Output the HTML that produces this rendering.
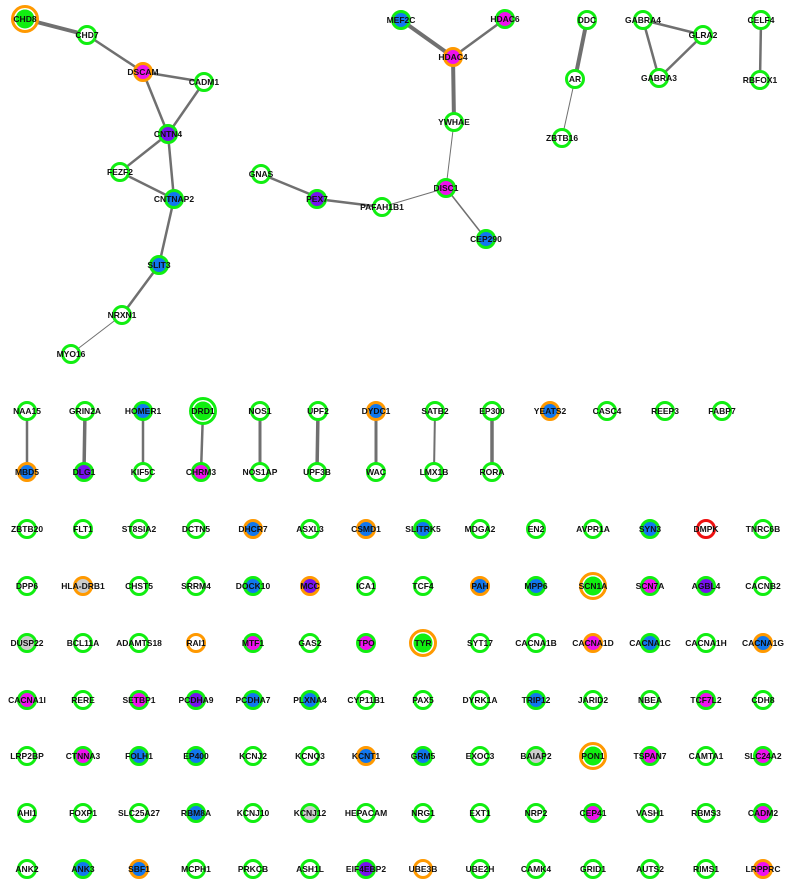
<!DOCTYPE html>
<html><head><meta charset="utf-8"><style>
html,body{margin:0;padding:0;background:#fff;}
svg{display:block;}
text{font-family:"Liberation Sans",sans-serif;font-weight:bold;font-size:8.5px;text-anchor:middle;fill:#111;}
circle{stroke-width:3;}
.g{stroke:#11ee11}.o{stroke:#ff9900}.r{stroke:#ee1111}
.w{fill:#fff}.m{fill:#ee11ee}.b{fill:#1177ee}.p{fill:#7711ee}.y{fill:#cccccc}.G{fill:#11ee11;stroke:none}
line{stroke:#707070;stroke-linecap:round}
</style></head><body>
<svg width="792" height="889" viewBox="0 0 792 889" xmlns="http://www.w3.org/2000/svg">
<!-- edges -->
<line x1="25" y1="19" x2="87" y2="35" stroke-width="4"/>
<line x1="87" y1="35" x2="143" y2="72" stroke-width="2.5"/>
<line x1="143" y1="72" x2="204" y2="82" stroke-width="2.5"/>
<line x1="143" y1="72" x2="168" y2="134" stroke-width="2.5"/>
<line x1="204" y1="82" x2="168" y2="134" stroke-width="2.5"/>
<line x1="168" y1="134" x2="120" y2="172" stroke-width="2.5"/>
<line x1="168" y1="134" x2="174" y2="199" stroke-width="2.5"/>
<line x1="120" y1="172" x2="174" y2="199" stroke-width="2.5"/>
<line x1="174" y1="199" x2="159" y2="265" stroke-width="2.5"/>
<line x1="159" y1="265" x2="122" y2="315" stroke-width="2.5"/>
<line x1="122" y1="315" x2="71" y2="354" stroke-width="1"/>
<line x1="261" y1="174" x2="317" y2="197" stroke-width="2.5"/>
<line x1="317" y1="199" x2="382" y2="207" stroke-width="2.5"/>
<line x1="382" y1="207" x2="446" y2="188" stroke-width="1"/>
<line x1="446" y1="188" x2="486" y2="239" stroke-width="1.5"/>
<line x1="446" y1="188" x2="454" y2="122" stroke-width="1"/>
<line x1="454" y1="122" x2="453" y2="57" stroke-width="4"/>
<line x1="453" y1="57" x2="401" y2="20" stroke-width="4"/>
<line x1="453" y1="57" x2="505" y2="19" stroke-width="2.5"/>
<line x1="587" y1="20" x2="575" y2="79" stroke-width="4"/>
<line x1="575" y1="79" x2="562" y2="138" stroke-width="1"/>
<line x1="643" y1="20" x2="703" y2="35" stroke-width="2.5"/>
<line x1="643" y1="20" x2="659" y2="78" stroke-width="2.5"/>
<line x1="703" y1="35" x2="659" y2="78" stroke-width="2.5"/>
<line x1="761" y1="20" x2="760" y2="80" stroke-width="2.5"/>
<line x1="27" y1="411" x2="27" y2="472" stroke-width="2.5"/>
<line x1="85" y1="411" x2="84" y2="472" stroke-width="3.5"/>
<line x1="143" y1="411" x2="143" y2="472" stroke-width="2.5"/>
<line x1="203" y1="411" x2="201" y2="472" stroke-width="2.5"/>
<line x1="260" y1="411" x2="260" y2="472" stroke-width="3"/>
<line x1="318" y1="411" x2="317" y2="472" stroke-width="3.5"/>
<line x1="376" y1="411" x2="376" y2="472" stroke-width="3"/>
<line x1="435" y1="411" x2="434" y2="472" stroke-width="2"/>
<line x1="492" y1="411" x2="492" y2="472" stroke-width="3.5"/>
<!-- top graph nodes -->
<circle cx="25" cy="19" r="12.5" class="o w"/><circle cx="25" cy="19" r="9.5" class="G"/><text x="25" y="22">CHD8</text>
<circle cx="87" cy="35" r="8.5" class="g w"/><text x="87" y="38">CHD7</text>
<circle cx="143" cy="72" r="8.5" class="o m"/><text x="143" y="75">DSCAM</text>
<circle cx="204" cy="82" r="8.5" class="g w"/><text x="204" y="85">CADM1</text>
<circle cx="168" cy="134" r="8.5" class="g p"/><text x="168" y="137">CNTN4</text>
<circle cx="120" cy="172" r="8.5" class="g w"/><text x="120" y="175">FEZF2</text>
<circle cx="174" cy="199" r="8.5" class="g b"/><text x="174" y="202">CNTNAP2</text>
<circle cx="159" cy="265" r="8.5" class="g b"/><text x="159" y="268">SLIT3</text>
<circle cx="122" cy="315" r="8.5" class="g w"/><text x="122" y="318">NRXN1</text>
<circle cx="71" cy="354" r="8.5" class="g w"/><text x="71" y="357">MYO16</text>
<circle cx="261" cy="174" r="8.5" class="g w"/><text x="261" y="177">GNAS</text>
<circle cx="317" cy="199" r="8.5" class="g p"/><text x="317" y="202">PEX7</text>
<circle cx="382" cy="207" r="8.5" class="g w"/><text x="382" y="210">PAFAH1B1</text>
<circle cx="446" cy="188" r="8.5" class="g m"/><text x="446" y="191">DISC1</text>
<circle cx="486" cy="239" r="8.5" class="g b"/><text x="486" y="242">CEP290</text>
<circle cx="454" cy="122" r="8.5" class="g w"/><text x="454" y="125">YWHAE</text>
<circle cx="453" cy="57" r="8.5" class="o m"/><text x="453" y="60">HDAC4</text>
<circle cx="401" cy="20" r="8.5" class="g b"/><text x="401" y="23">MEF2C</text>
<circle cx="505" cy="19" r="8.5" class="g m"/><text x="505" y="22">HDAC6</text>
<circle cx="587" cy="20" r="8.5" class="g w"/><text x="587" y="23">DDC</text>
<circle cx="575" cy="79" r="8.5" class="g w"/><text x="575" y="82">AR</text>
<circle cx="562" cy="138" r="8.5" class="g w"/><text x="562" y="141">ZBTB16</text>
<circle cx="643" cy="20" r="8.5" class="g w"/><text x="643" y="23">GABRA4</text>
<circle cx="703" cy="35" r="8.5" class="g w"/><text x="703" y="38">GLRA2</text>
<circle cx="659" cy="78" r="8.5" class="g w"/><text x="659" y="81">GABRA3</text>
<circle cx="761" cy="20" r="8.5" class="g w"/><text x="761" y="23">CELF4</text>
<circle cx="760" cy="80" r="8.5" class="g w"/><text x="760" y="83">RBFOX1</text>
<!-- pairs -->
<circle cx="27" cy="411" r="8.5" class="g w"/><text x="27" y="414">NAA15</text>
<circle cx="27" cy="472" r="8.5" class="o b"/><text x="27" y="475">MBD5</text>
<circle cx="85" cy="411" r="8.5" class="g w"/><text x="85" y="414">GRIN2A</text>
<circle cx="84" cy="472" r="8.5" class="g p"/><text x="84" y="475">DLG1</text>
<circle cx="143" cy="411" r="8.5" class="g b"/><text x="143" y="414">HOMER1</text>
<circle cx="143" cy="472" r="8.5" class="g w"/><text x="143" y="475">KIF5C</text>
<circle cx="203" cy="411" r="12.5" class="g w"/><circle cx="203" cy="411" r="9.5" class="G"/><text x="203" y="414">DRD1</text>
<circle cx="201" cy="472" r="8.5" class="g m"/><text x="201" y="475">CHRM3</text>
<circle cx="260" cy="411" r="8.5" class="g w"/><text x="260" y="414">NOS1</text>
<circle cx="260" cy="472" r="8.5" class="g w"/><text x="260" y="475">NOS1AP</text>
<circle cx="318" cy="411" r="8.5" class="g w"/><text x="318" y="414">UPF2</text>
<circle cx="317" cy="472" r="8.5" class="g w"/><text x="317" y="475">UPF3B</text>
<circle cx="376" cy="411" r="8.5" class="o b"/><text x="376" y="414">DYDC1</text>
<circle cx="376" cy="472" r="8.5" class="g w"/><text x="376" y="475">WAC</text>
<circle cx="435" cy="411" r="8.5" class="g w"/><text x="435" y="414">SATB2</text>
<circle cx="434" cy="472" r="8.5" class="g w"/><text x="434" y="475">LMX1B</text>
<circle cx="492" cy="411" r="8.5" class="g w"/><text x="492" y="414">EP300</text>
<circle cx="492" cy="472" r="8.5" class="g w"/><text x="492" y="475">RORA</text>
<circle cx="550" cy="411" r="8.5" class="o b"/><text x="550" y="414">YEATS2</text>
<circle cx="607" cy="411" r="8.5" class="g w"/><text x="607" y="414">CASC4</text>
<circle cx="665" cy="411" r="8.5" class="g w"/><text x="665" y="414">REEP3</text>
<circle cx="722" cy="411" r="8.5" class="g w"/><text x="722" y="414">FABP7</text>
<!-- row 529 -->
<circle cx="27" cy="529" r="8.5" class="g w"/><text x="27" y="532">ZBTB20</text>
<circle cx="83" cy="529" r="8.5" class="g w"/><text x="83" y="532">FLT1</text>
<circle cx="139" cy="529" r="8.5" class="g w"/><text x="139" y="532">ST8SIA2</text>
<circle cx="196" cy="529" r="8.5" class="g w"/><text x="196" y="532">DCTN5</text>
<circle cx="253" cy="529" r="8.5" class="o b"/><text x="253" y="532">DHCR7</text>
<circle cx="310" cy="529" r="8.5" class="g w"/><text x="310" y="532">ASXL3</text>
<circle cx="366" cy="529" r="8.5" class="o b"/><text x="366" y="532">CSMD1</text>
<circle cx="423" cy="529" r="8.5" class="g b"/><text x="423" y="532">SLITRK5</text>
<circle cx="480" cy="529" r="8.5" class="g w"/><text x="480" y="532">MDGA2</text>
<circle cx="536" cy="529" r="8.5" class="g w"/><text x="536" y="532">EN2</text>
<circle cx="593" cy="529" r="8.5" class="g w"/><text x="593" y="532">AVPR1A</text>
<circle cx="650" cy="529" r="8.5" class="g b"/><text x="650" y="532">SYN3</text>
<circle cx="706" cy="529" r="8.5" class="r w"/><text x="706" y="532">DMPK</text>
<circle cx="763" cy="529" r="8.5" class="g w"/><text x="763" y="532">TNRC6B</text>
<!-- row 586 -->
<circle cx="27" cy="586" r="8.5" class="g w"/><text x="27" y="589">DPP6</text>
<circle cx="83" cy="586" r="8.5" class="o y"/><text x="83" y="589">HLA-DRB1</text>
<circle cx="139" cy="586" r="8.5" class="g w"/><text x="139" y="589">CHST5</text>
<circle cx="196" cy="586" r="8.5" class="g w"/><text x="196" y="589">SRRM4</text>
<circle cx="253" cy="586" r="8.5" class="g b"/><text x="253" y="589">DOCK10</text>
<circle cx="310" cy="586" r="8.5" class="o p"/><text x="310" y="589">MCC</text>
<circle cx="366" cy="586" r="8.5" class="g w"/><text x="366" y="589">ICA1</text>
<circle cx="423" cy="586" r="8.5" class="g w"/><text x="423" y="589">TCF4</text>
<circle cx="480" cy="586" r="8.5" class="o b"/><text x="480" y="589">PAH</text>
<circle cx="536" cy="586" r="8.5" class="g b"/><text x="536" y="589">MPP6</text>
<circle cx="593" cy="586" r="12.5" class="o w"/><circle cx="593" cy="586" r="9.5" class="G"/><text x="593" y="589">SCN1A</text>
<circle cx="650" cy="586" r="8.5" class="g m"/><text x="650" y="589">SCN7A</text>
<circle cx="706" cy="586" r="8.5" class="g p"/><text x="706" y="589">AGBL4</text>
<circle cx="763" cy="586" r="8.5" class="g w"/><text x="763" y="589">CACNB2</text>
<!-- row 643 -->
<circle cx="27" cy="643" r="8.5" class="g y"/><text x="27" y="646">DUSP22</text>
<circle cx="83" cy="643" r="8.5" class="g w"/><text x="83" y="646">BCL11A</text>
<circle cx="139" cy="643" r="8.5" class="g w"/><text x="139" y="646">ADAMTS18</text>
<circle cx="196" cy="643" r="8.5" class="o w"/><text x="196" y="646">RAI1</text>
<circle cx="253" cy="643" r="8.5" class="g m"/><text x="253" y="646">MTF1</text>
<circle cx="310" cy="643" r="8.5" class="g w"/><text x="310" y="646">GAS2</text>
<circle cx="366" cy="643" r="8.5" class="g m"/><text x="366" y="646">TPO</text>
<circle cx="423" cy="643" r="12.5" class="o w"/><circle cx="423" cy="643" r="9.5" class="G"/><text x="423" y="646">TYR</text>
<circle cx="480" cy="643" r="8.5" class="g w"/><text x="480" y="646">SYT17</text>
<circle cx="536" cy="643" r="8.5" class="g w"/><text x="536" y="646">CACNA1B</text>
<circle cx="593" cy="643" r="8.5" class="o m"/><text x="593" y="646">CACNA1D</text>
<circle cx="650" cy="643" r="8.5" class="g b"/><text x="650" y="646">CACNA1C</text>
<circle cx="706" cy="643" r="8.5" class="g w"/><text x="706" y="646">CACNA1H</text>
<circle cx="763" cy="643" r="8.5" class="o b"/><text x="763" y="646">CACNA1G</text>
<!-- row 700 -->
<circle cx="27" cy="700" r="8.5" class="g m"/><text x="27" y="703">CACNA1I</text>
<circle cx="83" cy="700" r="8.5" class="g w"/><text x="83" y="703">RERE</text>
<circle cx="139" cy="700" r="8.5" class="g m"/><text x="139" y="703">SETBP1</text>
<circle cx="196" cy="700" r="8.5" class="g p"/><text x="196" y="703">PCDHA9</text>
<circle cx="253" cy="700" r="8.5" class="g b"/><text x="253" y="703">PCDHA7</text>
<circle cx="310" cy="700" r="8.5" class="g b"/><text x="310" y="703">PLXNA4</text>
<circle cx="366" cy="700" r="8.5" class="g w"/><text x="366" y="703">CYP11B1</text>
<circle cx="423" cy="700" r="8.5" class="g w"/><text x="423" y="703">PAX5</text>
<circle cx="480" cy="700" r="8.5" class="g w"/><text x="480" y="703">DYRK1A</text>
<circle cx="536" cy="700" r="8.5" class="g b"/><text x="536" y="703">TRIP12</text>
<circle cx="593" cy="700" r="8.5" class="g w"/><text x="593" y="703">JARID2</text>
<circle cx="650" cy="700" r="8.5" class="g w"/><text x="650" y="703">NBEA</text>
<circle cx="706" cy="700" r="8.5" class="g m"/><text x="706" y="703">TCF7L2</text>
<circle cx="763" cy="700" r="8.5" class="g w"/><text x="763" y="703">CDH8</text>
<!-- row 756 -->
<circle cx="27" cy="756" r="8.5" class="g w"/><text x="27" y="759">LRP2BP</text>
<circle cx="83" cy="756" r="8.5" class="g m"/><text x="83" y="759">CTNNA3</text>
<circle cx="139" cy="756" r="8.5" class="g b"/><text x="139" y="759">FOLH1</text>
<circle cx="196" cy="756" r="8.5" class="g b"/><text x="196" y="759">EP400</text>
<circle cx="253" cy="756" r="8.5" class="g w"/><text x="253" y="759">KCNJ2</text>
<circle cx="310" cy="756" r="8.5" class="g w"/><text x="310" y="759">KCNQ3</text>
<circle cx="366" cy="756" r="8.5" class="o b"/><text x="366" y="759">KCNT1</text>
<circle cx="423" cy="756" r="8.5" class="g b"/><text x="423" y="759">GRM5</text>
<circle cx="480" cy="756" r="8.5" class="g w"/><text x="480" y="759">EXOC3</text>
<circle cx="536" cy="756" r="8.5" class="g y"/><text x="536" y="759">BAIAP2</text>
<circle cx="593" cy="756" r="12.5" class="o w"/><circle cx="593" cy="756" r="9.5" class="G"/><text x="593" y="759">PON1</text>
<circle cx="650" cy="756" r="8.5" class="g m"/><text x="650" y="759">TSPAN7</text>
<circle cx="706" cy="756" r="8.5" class="g w"/><text x="706" y="759">CAMTA1</text>
<circle cx="763" cy="756" r="8.5" class="g m"/><text x="763" y="759">SLC24A2</text>
<!-- row 813 -->
<circle cx="27" cy="813" r="8.5" class="g w"/><text x="27" y="816">AHI1</text>
<circle cx="83" cy="813" r="8.5" class="g w"/><text x="83" y="816">FOXP1</text>
<circle cx="139" cy="813" r="8.5" class="g w"/><text x="139" y="816">SLC25A27</text>
<circle cx="196" cy="813" r="8.5" class="g b"/><text x="196" y="816">RBM8A</text>
<circle cx="253" cy="813" r="8.5" class="g w"/><text x="253" y="816">KCNJ10</text>
<circle cx="310" cy="813" r="8.5" class="g y"/><text x="310" y="816">KCNJ12</text>
<circle cx="366" cy="813" r="8.5" class="g w"/><text x="366" y="816">HEPACAM</text>
<circle cx="423" cy="813" r="8.5" class="g w"/><text x="423" y="816">NRG1</text>
<circle cx="480" cy="813" r="8.5" class="g w"/><text x="480" y="816">EXT1</text>
<circle cx="536" cy="813" r="8.5" class="g w"/><text x="536" y="816">NRP2</text>
<circle cx="593" cy="813" r="8.5" class="g m"/><text x="593" y="816">CEP41</text>
<circle cx="650" cy="813" r="8.5" class="g w"/><text x="650" y="816">VASH1</text>
<circle cx="706" cy="813" r="8.5" class="g w"/><text x="706" y="816">RBMS3</text>
<circle cx="763" cy="813" r="8.5" class="g m"/><text x="763" y="816">CADM2</text>
<!-- row 869 -->
<circle cx="27" cy="869" r="8.5" class="g w"/><text x="27" y="872">ANK2</text>
<circle cx="83" cy="869" r="8.5" class="g b"/><text x="83" y="872">ANK3</text>
<circle cx="139" cy="869" r="8.5" class="o b"/><text x="139" y="872">SBF1</text>
<circle cx="196" cy="869" r="8.5" class="g w"/><text x="196" y="872">MCPH1</text>
<circle cx="253" cy="869" r="8.5" class="g w"/><text x="253" y="872">PRKCB</text>
<circle cx="310" cy="869" r="8.5" class="g w"/><text x="310" y="872">ASH1L</text>
<circle cx="366" cy="869" r="8.5" class="g p"/><text x="366" y="872">EIF4EBP2</text>
<circle cx="423" cy="869" r="8.5" class="o w"/><text x="423" y="872">UBE3B</text>
<circle cx="480" cy="869" r="8.5" class="g w"/><text x="480" y="872">UBE2H</text>
<circle cx="536" cy="869" r="8.5" class="g w"/><text x="536" y="872">CAMK4</text>
<circle cx="593" cy="869" r="8.5" class="g w"/><text x="593" y="872">GRID1</text>
<circle cx="650" cy="869" r="8.5" class="g w"/><text x="650" y="872">AUTS2</text>
<circle cx="706" cy="869" r="8.5" class="g w"/><text x="706" y="872">RIMS1</text>
<circle cx="763" cy="869" r="8.5" class="o m"/><text x="763" y="872">LRPPRC</text>
</svg>
</body></html>
